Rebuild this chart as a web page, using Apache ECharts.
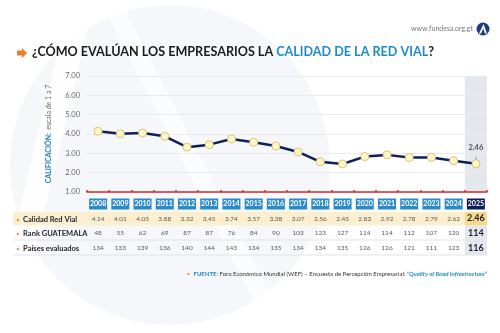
<!DOCTYPE html>
<html>
<head>
<meta charset="utf-8">
<script src="https://cdn.jsdelivr.net/npm/echarts@6/dist/echarts.min.js"></script>
<style>
  html, body { margin: 0; padding: 0; background: #fff; }
  #chart { width: 500px; height: 333px; }
</style>
</head>
<body>
<div id="chart"></div>
<script>
// Road-quality score (WEF survey, scale 1-7) with Guatemala's rank by year
var years = ['2008','2009','2010','2011','2012','2013','2014','2015','2016','2017','2018','2019','2020','2021','2022','2023','2024','2025'];
var calidad = [4.14, 4.01, 4.05, 3.88, 3.32, 3.45, 3.74, 3.57, 3.38, 3.07, 2.56, 2.45, 2.83, 2.92, 2.78, 2.79, 2.62, 2.46];
var rankGT = [48, 55, 62, 69, 87, 87, 76, 84, 90, 103, 123, 127, 114, 114, 112, 107, 120, 114];
var paises = [134, 133, 139, 136, 140, 144, 143, 134, 135, 134, 134, 135, 126, 126, 121, 111, 123, 116];
var rowNames = ['Calidad Red Vial', 'Rank GUATEMALA', 'Países evaluados'];
var yTicks = [1, 2, 3, 4, 5, 6, 7];

var FONT = 'Lato, "Open Sans", sans-serif';
var last = years.length - 1;

var chart = echarts.init(document.getElementById('chart'), null, { renderer: 'canvas' });

function rowAxis(values, margin, isScore) {
  return {
    type: 'category',
    data: years,
    gridIndex: 0,
    position: 'bottom',
    boundaryGap: true,
    axisLine: { show: false },
    axisTick: { show: false },
    splitLine: { show: false },
    axisLabel: {
      interval: 0,
      margin: margin,
      verticalAlign: 'middle',
      formatter: function (v, i) {
        var txt = isScore ? values[i].toFixed(2) : String(values[i]);
        return i === last ? '{hl|' + txt + '}' : '{n|' + txt + '}';
      },
      rich: {
        n: { fontFamily: FONT, fontSize: 6.5, color: '#5a5a5a' },
        hl: { fontFamily: FONT, fontSize: 9, fontWeight: 'bold', color: '#1e1e2e' }
      }
    }
  };
}

var option = {
  backgroundColor: '#ffffff',
  animation: false,
  grid: { left: 87, right: 13, top: 76, bottom: 141, containLabel: false },
  yAxis: {
    type: 'value',
    min: yTicks[0],
    max: yTicks[yTicks.length - 1],
    interval: 1,
    axisLine: { show: false },
    axisTick: { show: false },
    splitLine: { lineStyle: { color: '#ebebef', width: 1 } },
    axisLabel: {
      margin: 7,
      fontFamily: FONT, fontSize: 7.5, color: '#6a6a6a',
      formatter: function (v) { return v.toFixed(2); }
    },
    name: '{b|CALIFICACIÓN:} {n|escala de 1 a 7}',
    nameLocation: 'middle',
    nameRotate: 90,
    nameGap: 29,
    nameTextStyle: {
      rich: {
        b: { fontFamily: FONT, fontSize: 7, fontWeight: 'bold', color: '#1f7fc0' },
        n: { fontFamily: FONT, fontSize: 7, color: '#6a6a6a' }
      }
    }
  },
  xAxis: [
    {
      type: 'category',
      data: years,
      gridIndex: 0,
      position: 'bottom',
      boundaryGap: true,
      axisLine: { lineStyle: { color: '#d42a2a', width: 1.5 } },
      axisTick: { show: true, length: 2, inside: true, lineStyle: { color: '#d42a2a', width: 1.5 } },
      axisLabel: {
        interval: 0,
        margin: 12,
        verticalAlign: 'middle',
        formatter: function (v, i) { return i === last ? '{last|' + v + '}' : '{yr|' + v + '}'; },
        rich: {
          yr: { fontFamily: FONT, fontSize: 7, fontWeight: 'bold', color: '#ffffff',
                backgroundColor: '#2a8ac8', width: 18, height: 11, lineHeight: 11, align: 'center' },
          last: { fontFamily: FONT, fontSize: 7, fontWeight: 'bold', color: '#ffffff',
                  backgroundColor: '#0e1d58', width: 18, height: 11, lineHeight: 11, align: 'center' }
        }
      }
    },
    rowAxis(calidad, 26.5, true),
    rowAxis(rankGT, 41, false),
    rowAxis(paises, 56, false)
  ],
  series: [
    {
      type: 'line',
      xAxisIndex: 0,
      data: calidad,
      z: 5,
      lineStyle: { color: '#0f1f5a', width: 2.5 },
      itemStyle: { color: '#fff6c9', borderColor: '#dcc66e', borderWidth: 1 },
      symbol: 'circle',
      symbolSize: 8,
      label: {
        show: true,
        position: 'top',
        distance: 8,
        fontFamily: FONT, fontSize: 7.5, fontWeight: 'bold', color: '#555',
        formatter: function (p) { return p.dataIndex === last ? p.value.toFixed(2) : ''; }
      }
    }
  ]
};

chart.setOption(option);

// Band geometry of the category axis, used for table backgrounds and the highlighted column
var x0 = chart.convertToPixel({ xAxisIndex: 0 }, years[0]);
var x1 = chart.convertToPixel({ xAxisIndex: 0 }, years[1]);
var band = x1 - x0;
var xl = chart.convertToPixel({ xAxisIndex: 0 }, years[last]);
var colL = xl - band / 2, colR = xl + band / 2;
var yTop = chart.convertToPixel({ yAxisIndex: 0 }, yTicks[yTicks.length - 1]);
var yBot = chart.convertToPixel({ yAxisIndex: 0 }, yTicks[0]);
var yLast = chart.convertToPixel({ yAxisIndex: 0 }, calidad[last]);
var tableLeft = 13;

var rowTops = [212, 225.5, 240, 255];
var graphics = [];

// faint logo watermark behind everything
graphics.push({ type: 'circle', shape: { cx: 170, cy: 165, r: 160 }, style: { fill: '#f5f7fa' }, z: -10, silent: true });
graphics.push({ type: 'polygon', shape: { points: [[70, 0], [95, 0], [15, 333], [-10, 333]] }, style: { fill: '#ffffff', opacity: 0.85 }, z: -9, silent: true });
graphics.push({ type: 'polygon', shape: { points: [[100, 0], [120, 0], [290, 333], [270, 333]] }, style: { fill: '#ffffff', opacity: 0.6 }, z: -9, silent: true });

// highlighted 2025 column in plot area
graphics.push({ type: 'rect', shape: { x: colL, y: yTop, width: band, height: yBot - yTop }, style: { fill: '#e4e7ee' }, z: -1, silent: true });

// table row fills
graphics.push({ type: 'rect', shape: { x: tableLeft, y: rowTops[0], width: colL - tableLeft, height: rowTops[1] - rowTops[0] }, style: { fill: '#fcefd0' }, z: -1, silent: true });
graphics.push({ type: 'rect', shape: { x: colL, y: rowTops[0], width: band, height: rowTops[1] - rowTops[0] }, style: { fill: '#f7d98c' }, z: -1, silent: true });
graphics.push({ type: 'rect', shape: { x: colL, y: rowTops[1], width: band, height: rowTops[3] - rowTops[1] }, style: { fill: '#e4e7ef' }, z: -1, silent: true });
// row separators
[rowTops[2], rowTops[3]].forEach(function (y) {
  graphics.push({ type: 'line', shape: { x1: tableLeft, y1: y, x2: colR, y2: y }, style: { stroke: '#e3e3e8', lineWidth: 1 }, z: 0, silent: true });
});

// row names
rowNames.forEach(function (name, i) {
  graphics.push({
    type: 'text', left: 16, top: (rowTops[i] + rowTops[i + 1]) / 2 - 5, z: 2,
    style: {
      text: '{d|•} {t|' + name + '}',
      rich: {
        d: { fill: '#f08a3a', fontSize: 6.5, fontFamily: FONT },
        t: { fill: '#26262e', fontSize: 7.5, fontWeight: 'bold', fontFamily: FONT }
      }
    }
  });
});

// leader from the last value label to its point
graphics.push({ type: 'line', shape: { x1: xl, y1: yLast - 7, x2: xl, y2: yLast - 4 }, style: { stroke: '#888', lineWidth: 0.8 }, z: 6, silent: true });

// header: title, site and logo
graphics.push({
  type: 'polygon', z: 3,
  shape: { points: [[17, 50.5], [22, 50.5], [22, 48], [27, 53], [22, 58], [22, 55.5], [17, 55.5]] },
  style: { fill: '#f07e26' }
});
graphics.push({
  type: 'text', left: 32, top: 45, z: 3,
  style: {
    text: '{k|¿CÓMO EVALÚAN LOS EMPRESARIOS LA }{b|CALIDAD DE LA RED VIAL}{k|?}',
    rich: {
      k: { fill: '#1c1c1c', fontSize: 12.6, fontWeight: 'bold', fontFamily: FONT },
      b: { fill: '#1f8ac9', fontSize: 12.6, fontWeight: 'bold', fontFamily: FONT }
    }
  }
});
graphics.push({
  type: 'text', right: 27, top: 25, z: 3,
  style: { text: 'www.fundesa.org.gt', fill: '#777', fontSize: 7, fontFamily: FONT }
});
graphics.push({ type: 'circle', shape: { cx: 483, cy: 29, r: 6.5 }, style: { fill: '#1d3b82' }, z: 3 });
graphics.push({ type: 'polygon', shape: { points: [[479, 33.5], [483.5, 24], [487, 33.5], [485, 33.5], [483.2, 28.5], [481, 33.5]] }, style: { fill: '#ffffff' }, z: 4 });

// source note
graphics.push({
  type: 'text', right: 13, top: 268, z: 3,
  style: {
    text: '{d|•} {f|FUENTE:}{t| Foro Económico Mundial (WEF) – Encuesta de Percepción Empresarial: }{q|“Quality of Road Infrastructure”}',
    rich: {
      d: { fill: '#f08a3a', fontSize: 6, fontFamily: FONT },
      f: { fill: '#1f8ac9', fontSize: 6, fontWeight: 'bold', fontFamily: FONT },
      t: { fill: '#333', fontSize: 6, fontFamily: FONT },
      q: { fill: '#1f8ac9', fontSize: 6, fontStyle: 'italic', fontWeight: 'bold', fontFamily: FONT }
    }
  }
});

chart.setOption({ graphic: graphics });
</script>
</body>
</html>
